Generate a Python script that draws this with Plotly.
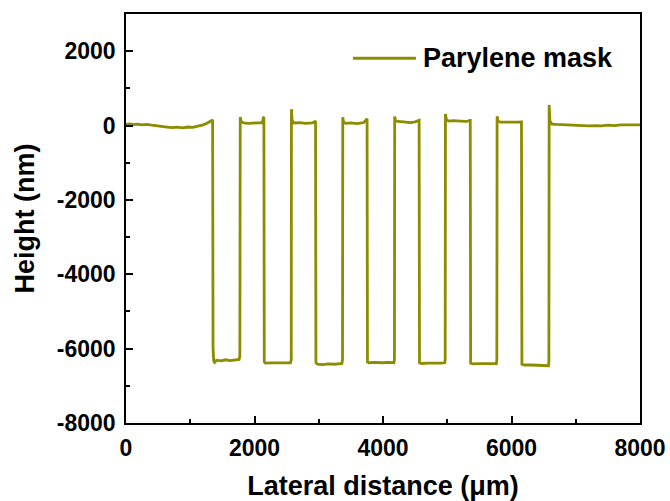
import plotly.graph_objects as go

# Lateral distance (um) and height (nm) of the profilometer trace
lateral_um = [
    0, 60, 120, 180, 250, 320, 400, 480, 560, 640, 720, 800, 880, 960, 1040, 1120, 1200, 1260, 1310, 1340,
    1348, 1355, 1365, 1380, 1410, 1480, 1550, 1620, 1700, 1760,
    1772, 1778, 1790, 1830, 1900, 1980, 2060, 2120, 2140,
    2146, 2152, 2170, 2250, 2350, 2450, 2560,
    2572, 2575, 2585, 2610, 2700, 2800, 2900, 2940,
    2950, 2956, 2980, 3060, 3150, 3250, 3360,
    3370, 3374, 3385, 3420, 3500, 3600, 3700, 3745,
    3752, 3758, 3780, 3880, 3980, 4080, 4170,
    4178, 4182, 4195, 4230, 4320, 4420, 4500, 4555,
    4562, 4568, 4600, 4700, 4800, 4900, 4960,
    4968, 4972, 4985, 5020, 5100, 5200, 5300, 5352,
    5358, 5364, 5400, 5500, 5600, 5700, 5765,
    5772, 5776, 5790, 5830, 5900, 6000, 6100, 6148,
    6155, 6162, 6200, 6300, 6400, 6500, 6575,
    6582, 6586, 6598, 6630, 6700, 6800, 6900, 7000, 7100, 7200, 7300, 7400, 7500, 7600, 7700, 7800, 7900, 8000,
]
height_nm = [
    30, 45, 25, 40, 20, 30, 10, 0, -20, -40, -55, -45, -60, -40, -50, -20, 20, 60, 110, 140,
    150, -6000, -6330, -6370, -6310, -6330, -6300, -6320, -6300, -6290,
    -6200, 230, 120, 70, 60, 70, 60, 80, 220,
    230, -6350, -6390, -6385, -6380, -6390, -6385,
    -6300, 440, 150, 70, 80, 60, 70, 110,
    120, -6380, -6420, -6430, -6410, -6420, -6400,
    -6300, 225, 100, 60, 70, 50, 80, 170,
    180, -6360, -6380, -6370, -6380, -6370, -6380,
    -6300, 240, 130, 110, 100, 80, 100, 140,
    140, -6380, -6400, -6390, -6395, -6390, -6380,
    -6300, 310, 170, 120, 130, 120, 110, 140,
    140, -6390, -6410, -6405, -6400, -6410, -6400,
    -6300, 250, 120, 90, 90, 80, 90, 100,
    100, -6420, -6440, -6440, -6450, -6450, -6460,
    -6350, 555, 120, 40, 30, 20, 30, 10, 0, -10, 0, -10, 10, 0, 20, 15, 25, 20,
]

series_name = "Parylene mask"
x_ticks = [0, 2000, 4000, 6000, 8000]
y_ticks = [-8000, -6000, -4000, -2000, 0, 2000]

COLOR = "#8c8c00"
FONT = "Liberation Sans"

fig = go.Figure()
fig.add_trace(go.Scatter(
    x=lateral_um, y=height_nm, mode="lines", name=series_name,
    line=dict(color=COLOR, width=2.8), showlegend=False,
))

axis_common = dict(
    showline=True, linecolor="black", linewidth=1.5, mirror=True,
    ticks="inside", ticklen=7, tickwidth=1.5, tickcolor="black",
    showgrid=False, zeroline=False, automargin=False,
    tickfont=dict(family=FONT, size=23, color="black", weight="bold"),
    minor=dict(ticks="inside", ticklen=4, tickwidth=1.5, tickcolor="black", dtick=1000),
)

fig.update_xaxes(
    range=[0, 8000], tickvals=x_ticks, ticktext=[str(v) for v in x_ticks],
    ticklabelstandoff=4,
    title=dict(text="Lateral distance (\u03bcm)", standoff=16,
               font=dict(family=FONT, size=27, color="black", weight="bold")),
    **axis_common,
)
fig.update_yaxes(
    range=[-8000, 3000], tickvals=y_ticks, ticktext=[str(v) for v in y_ticks],
    ticklabelstandoff=4,
    title=dict(text="Height (nm)", standoff=14,
               font=dict(family=FONT, size=27, color="black", weight="bold")),
    **axis_common,
)

# legend drawn as line sample + label
fig.add_shape(type="line", xref="paper", yref="paper", x0=0.4416, x1=0.564, y0=0.892, y1=0.892,
              line=dict(color=COLOR, width=3))
fig.add_annotation(xref="paper", yref="paper", x=0.578, y=0.892, xanchor="left", yanchor="middle",
                   text=series_name, showarrow=False, xshift=-2,
                   font=dict(family=FONT, size=27, color="black", weight="bold"))

fig.update_layout(
    width=670, height=501,
    margin=dict(l=126, r=30, t=14, b=78),
    plot_bgcolor="white", paper_bgcolor="white",
)

fig.write_html("out.html")
